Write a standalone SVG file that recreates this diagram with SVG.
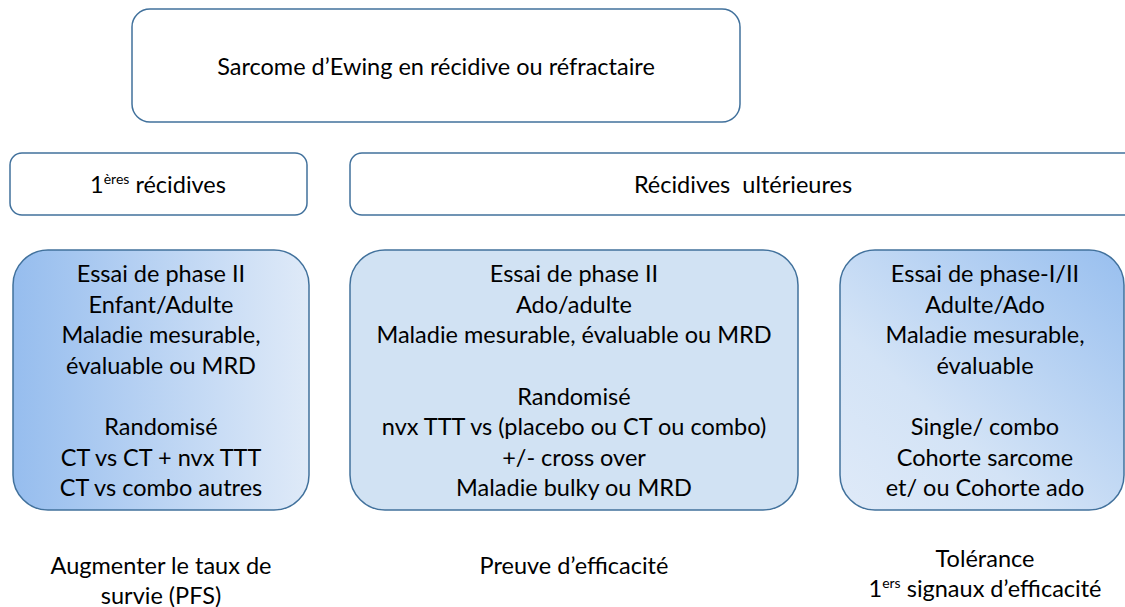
<svg xmlns="http://www.w3.org/2000/svg" width="1125" height="607" viewBox="0 0 1125 607">
<defs>
<linearGradient id="gL" x1="0" y1="0" x2="1" y2="0"><stop offset="0" stop-color="#96bdee"/><stop offset="1" stop-color="#dfeaf8"/></linearGradient>
<linearGradient id="gR" x1="0" y1="1" x2="1" y2="0"><stop offset="0" stop-color="#dfeaf8"/><stop offset="0.35" stop-color="#d3e3f6"/><stop offset="1" stop-color="#98bfef"/></linearGradient>
<style>
.box{fill:#fff;stroke:#41719c;stroke-width:1.5}
.t{font-family:Lato,"Liberation Sans",sans-serif;font-size:23.5px;fill:#000;text-anchor:middle}
.sup{font-size:14px}
</style>
</defs>
<g id="connectors"></g>
<g id="title"><rect class="box" x="132" y="9" width="608" height="113" rx="18"/><text class="t" x="436" y="75">Sarcome d’Ewing en récidive ou réfractaire</text></g>
<g id="first"><rect class="box" x="10" y="153" width="297" height="62" rx="12"/><text class="t" x="158" y="193">1<tspan class="sup" dy="-9">ères</tspan><tspan dy="9"> récidives</tspan></text></g>
<g id="later"><rect class="box" x="350" y="153" width="800" height="62" rx="12"/><text class="t" x="743" y="193" xml:space="preserve">Récidives  ultérieures</text></g>
<g id="trial1"><rect x="13" y="250" width="296" height="260" rx="35" fill="url(#gL)" stroke="#41719c" stroke-width="1.5"/>
<text class="t"><tspan x="161" y="282">Essai de phase II</tspan><tspan x="161" y="313">Enfant/Adulte</tspan><tspan x="161" y="343">Maladie mesurable,</tspan><tspan x="161" y="374">évaluable ou MRD</tspan><tspan x="161" y="435">Randomisé</tspan><tspan x="161" y="466">CT vs CT + nvx TTT</tspan><tspan x="161" y="496">CT vs combo autres</tspan></text></g>
<g id="trial2"><rect x="350" y="250" width="448" height="260" rx="35" fill="#d1e2f3" stroke="#41719c" stroke-width="1.5"/>
<text class="t"><tspan x="574" y="282">Essai de phase II</tspan><tspan x="574" y="313">Ado/adulte</tspan><tspan x="574" y="343">Maladie mesurable, évaluable ou MRD</tspan><tspan x="574" y="405">Randomisé</tspan><tspan x="574" y="435">nvx TTT vs (placebo ou CT ou combo)</tspan><tspan x="574" y="466">+/- cross over</tspan><tspan x="574" y="496">Maladie bulky ou MRD</tspan></text></g>
<g id="trial3"><rect x="840" y="250" width="284" height="260" rx="35" fill="url(#gR)" stroke="#41719c" stroke-width="1.5"/>
<text class="t"><tspan x="985" y="282">Essai de phase-I/II</tspan><tspan x="985" y="313">Adulte/Ado</tspan><tspan x="985" y="343">Maladie mesurable,</tspan><tspan x="985" y="374">évaluable</tspan><tspan x="985" y="435">Single/ combo</tspan><tspan x="985" y="466">Cohorte sarcome</tspan><tspan x="985" y="496">et/ ou Cohorte ado</tspan></text></g>
<g id="goal1"><text class="t"><tspan x="161" y="574">Augmenter le taux de</tspan><tspan x="161" y="604">survie (PFS)</tspan></text></g>
<g id="goal2"><text class="t" x="574" y="574">Preuve d’efficacité</text></g>
<g id="goal3"><text class="t"><tspan x="985" y="567">Tolérance</tspan><tspan x="985" y="597">1<tspan class="sup" dy="-9">ers</tspan><tspan dy="9"> signaux d’efficacité</tspan></tspan></text></g>
</svg>
